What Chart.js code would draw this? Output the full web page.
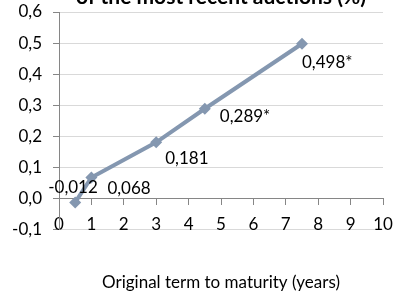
<!DOCTYPE html>
<html>
<head>
<meta charset="utf-8">
<script src="https://cdn.jsdelivr.net/npm/chart.js@4.4.0/dist/chart.umd.min.js"></script>
<style>
  html, body { margin: 0; padding: 0; background: #ffffff; overflow: hidden; width: 393px; height: 291px; }
  #wrap { position: absolute; left: 0; top: -15px; width: 393px; height: 308px; }
</style>
</head>
<body>
<div id="wrap"><canvas id="c" width="393" height="308"></canvas></div>
<script>
// Data
const terms = [0.5, 1, 3, 4.5, 7.5];                 // original term to maturity (years)
const yields = [-0.012, 0.068, 0.181, 0.289, 0.498];  // yield (%)
const pointLabels = ['-0,012', '0,068', '0,181', '0,289*', '0,498*'];
const titleText = 'of the most recent auctions (%)';
const xTitleText = 'Original term to maturity (years)';

const FONT = 'Lato, "Open Sans", sans-serif';

// label placement relative to each point (style, not data)
const labelOffsets = [[-27, -15], [16, 11], [9, 16], [15, 8], [0, 19]];

const labelPlugin = {
  id: 'pointLabels',
  afterDatasetsDraw(chart) {
    const ctx = chart.ctx;
    const meta = chart.getDatasetMeta(0);
    ctx.save();
    ctx.font = '17px ' + FONT;
    ctx.fillStyle = '#000000';
    ctx.textAlign = 'left';
    ctx.textBaseline = 'middle';
    meta.data.forEach((pt, i) => {
      const off = labelOffsets[i] || [8, 12];
      ctx.fillText(pointLabels[i], pt.x + off[0], pt.y + off[1]);
    });
    ctx.restore();
  }
};

const fmt = v => Number(v).toFixed(1).replace('.', ',').replace('-0,0', '0,0');

new Chart(document.getElementById('c'), {
  type: 'scatter',
  data: {
    datasets: [{
      data: terms.map((t, i) => ({ x: t, y: yields[i] })),
      showLine: true,
      borderColor: '#8497b0',
      backgroundColor: '#8497b0',
      borderWidth: 4,
      pointStyle: 'rectRot',
      pointRadius: 6,
      pointHoverRadius: 6,
      pointBorderWidth: 0,
      tension: 0
    }]
  },
  options: {
    responsive: false,
    devicePixelRatio: 1,
    animation: false,
    layout: { padding: { left: 0, right: 0, top: 0, bottom: 0 } },
    plugins: {
      legend: { display: false },
      tooltip: { enabled: false },
      title: {
        display: true,
        fullSize: false,
        text: titleText,
        color: '#000000',
        font: { family: FONT, size: 21, weight: 'bold', lineHeight: 1.2 },
        padding: { top: 0, bottom: 1.8 }
      },
      subtitle: {
        display: true,
        fullSize: false,
        position: 'bottom',
        text: xTitleText,
        color: '#000000',
        font: { family: FONT, size: 17, lineHeight: 1.2 },
        padding: { top: 42.8, bottom: 0 }
      }
    },
    scales: {
      x: {
        type: 'linear',
        position: { y: 0 },
        min: 0,
        max: 10,
        ticks: {
          stepSize: 1,
          color: '#000000',
          font: { family: FONT, size: 17 },
          padding: 10,
          maxRotation: 0
        },
        grid: { drawOnChartArea: false, drawTicks: true, tickLength: 6, color: '#868686' },
        border: { display: true, color: '#868686', width: 1 },
        afterFit(scale) { scale.paddingRight = 10; scale.paddingLeft = 0; }
      },
      y: {
        min: -0.1,
        max: 0.6,
        ticks: {
          stepSize: 0.1,
          color: '#000000',
          font: { family: FONT, size: 17 },
          padding: 11,
          callback: v => fmt(v)
        },
        grid: { color: '#d9d9d9', tickColor: '#868686', tickLength: 6, drawTicks: true },
        border: { display: true, color: '#868686', width: 1 },
        afterFit(scale) { scale.width = 59; }
      }
    }
  },
  plugins: [labelPlugin]
});
</script>
</body>
</html>
